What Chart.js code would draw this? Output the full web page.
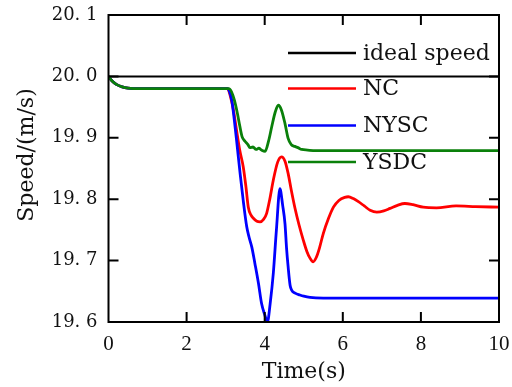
<!DOCTYPE html>
<html>
<head>
<meta charset="utf-8">
<script src="https://cdn.jsdelivr.net/npm/chart.js@4.4.1/dist/chart.umd.min.js"></script>
<style>
  html, body { margin: 0; padding: 0; background: #fff; }
  #wrap { width: 512px; height: 387px; position: relative; }
</style>
</head>
<body>
<div id="wrap"><canvas id="c" width="512" height="387"></canvas></div>
<script>
// Series labels and colours
const seriesNames = ['ideal speed', 'NC', 'NYSC', 'YSDC'];
const seriesColors = ['#000000', '#ff0000', '#0000ff', '#0a800a'];

// Axis ticks
const xTicks = [0, 2, 4, 6, 8, 10];
const yTicks = [19.6, 19.7, 19.8, 19.9, 20.0, 20.1];
const yTickLabels = ['19. 6', '19. 7', '19. 8', '19. 9', '20. 0', '20. 1'];

// Reference speed (m/s)
const idealTime  = [0, 10];
const idealSpeed = [20.0, 20.0];

// NC response
const ncTime = [0, 0.1, 0.2, 0.35, 0.5, 0.8, 3.05, 3.12, 3.2, 3.28, 3.36, 3.45, 3.52, 3.58, 3.65, 3.71, 3.8, 3.88, 3.97, 4.05, 4.13, 4.22, 4.33, 4.43, 4.52, 4.6, 4.68, 4.77, 4.88, 4.99, 5.08, 5.16, 5.24, 5.32, 5.4, 5.5, 5.63, 5.76, 5.9, 6.05, 6.14, 6.27, 6.4, 6.55, 6.7, 6.87, 7.05, 7.21, 7.4, 7.59, 7.8, 8.06, 8.4, 8.9, 9.4, 10];
const ncSpeed = [20.0, 19.992, 19.987, 19.983, 19.981, 19.980, 19.980, 19.968, 19.945, 19.912, 19.880, 19.853, 19.820, 19.787, 19.774, 19.769, 19.764, 19.763, 19.767, 19.777, 19.800, 19.831, 19.860, 19.869, 19.862, 19.842, 19.815, 19.787, 19.758, 19.733, 19.715, 19.704, 19.698, 19.705, 19.720, 19.744, 19.768, 19.787, 19.798, 19.803, 19.804, 19.801, 19.796, 19.789, 19.782, 19.779, 19.781, 19.785, 19.790, 19.793, 19.791, 19.787, 19.786, 19.789, 19.788, 19.787];

// NYSC response
const nyscTime = [0, 0.1, 0.2, 0.35, 0.5, 0.8, 3.05, 3.1, 3.16, 3.22, 3.28, 3.37, 3.45, 3.54, 3.6, 3.67, 3.75, 3.84, 3.92, 4.0, 4.07, 4.14, 4.22, 4.3, 4.39, 4.46, 4.52, 4.56, 4.6, 4.65, 4.69, 4.78, 4.9, 5.0, 5.16, 5.5, 10];
const nyscSpeed = [20.0, 19.992, 19.987, 19.983, 19.981, 19.980, 19.980, 19.975, 19.960, 19.930, 19.896, 19.842, 19.798, 19.755, 19.738, 19.722, 19.695, 19.663, 19.630, 19.612, 19.600, 19.630, 19.679, 19.750, 19.817, 19.790, 19.760, 19.720, 19.690, 19.660, 19.652, 19.647, 19.644, 19.642, 19.640, 19.639, 19.639];

// YSDC response
const ysdcTime = [0, 0.1, 0.2, 0.35, 0.5, 0.8, 3.08, 3.15, 3.22, 3.3, 3.36, 3.42, 3.5, 3.57, 3.62, 3.7, 3.78, 3.85, 3.92, 4.01, 4.1, 4.18, 4.27, 4.35, 4.43, 4.52, 4.6, 4.68, 4.77, 4.85, 4.95, 5.1, 5.3, 6, 10];
const ysdcSpeed = [20.0, 19.992, 19.987, 19.983, 19.981, 19.980, 19.980, 19.975, 19.962, 19.940, 19.920, 19.902, 19.894, 19.889, 19.884, 19.885, 19.881, 19.883, 19.880, 19.878, 19.895, 19.918, 19.942, 19.953, 19.945, 19.923, 19.899, 19.889, 19.886, 19.884, 19.881, 19.880, 19.879, 19.879, 19.879];

const toPoints = (t, v) => t.map((x, i) => ({ x: x, y: v[i] }));

// Frame around the plot area with inward tick marks on all four sides
const framePlugin = {
  id: 'frame',
  afterDraw(chart) {
    const { ctx, chartArea: a, scales } = chart;
    ctx.save();
    ctx.strokeStyle = '#000';
    ctx.lineWidth = 2;
    ctx.beginPath();
    const tl = 10;
    xTicks.slice(1, -1).forEach(v => {
      const px = scales.x.getPixelForValue(v);
      ctx.moveTo(px, a.bottom); ctx.lineTo(px, a.bottom - tl);
      ctx.moveTo(px, a.top); ctx.lineTo(px, a.top + tl);
    });
    yTicks.slice(1, -1).forEach(v => {
      const py = scales.y.getPixelForValue(v);
      ctx.moveTo(a.left, py); ctx.lineTo(a.left + tl, py);
      ctx.moveTo(a.right, py); ctx.lineTo(a.right - tl, py);
    });
    ctx.stroke();
    ctx.strokeRect(a.left, a.top, a.right - a.left, a.bottom - a.top);

    // vertical axis title
    ctx.fillStyle = '#111';
    ctx.font = '22px "DejaVu Serif"';
    ctx.textAlign = 'center';
    ctx.textBaseline = 'middle';
    ctx.translate(27, 155);
    ctx.rotate(-Math.PI / 2);
    ctx.fillText('Speed/(m/s)', 0, 0);
    ctx.restore();
  }
};

// Legend drawn inside the plot area, upper right
const legendPlugin = {
  id: 'innerLegend',
  afterDatasetsDraw(chart) {
    const { ctx } = chart;
    const x0 = 288, x1 = 356, tx = 363;
    const rows = [53, 88.5, 125.5, 162];
    ctx.save();
    ctx.font = '22px "DejaVu Serif"';
    ctx.textAlign = 'left';
    ctx.textBaseline = 'middle';
    chart.data.datasets.forEach((ds, i) => {
      ctx.strokeStyle = ds.borderColor;
      ctx.lineWidth = 2.5;
      ctx.beginPath();
      ctx.moveTo(x0, rows[i]);
      ctx.lineTo(x1, rows[i]);
      ctx.stroke();
      ctx.fillStyle = '#111';
      ctx.fillText(ds.label, tx, rows[i] + 1);
    });
    ctx.restore();
  }
};

const lineStyle = (i, order) => ({
  label: seriesNames[i],
  borderColor: seriesColors[i],
  backgroundColor: seriesColors[i],
  borderWidth: i === 0 ? 2 : 2.8,
  pointRadius: 0,
  fill: false,
  cubicInterpolationMode: 'monotone',
  order: order
});

new Chart(document.getElementById('c'), {
  type: 'line',
  data: {
    datasets: [
      Object.assign({ data: toPoints(idealTime, idealSpeed) }, lineStyle(0, 4)),
      Object.assign({ data: toPoints(ncTime, ncSpeed) }, lineStyle(1, 3)),
      Object.assign({ data: toPoints(nyscTime, nyscSpeed) }, lineStyle(2, 2)),
      Object.assign({ data: toPoints(ysdcTime, ysdcSpeed) }, lineStyle(3, 1))
    ]
  },
  options: {
    responsive: false,
    animation: false,
    devicePixelRatio: 1,
    layout: { padding: { top: 15, right: 13, left: 0, bottom: 0 } },
    plugins: { legend: { display: false }, tooltip: { enabled: false } },
    scales: {
      x: {
        type: 'linear',
        min: 0, max: 10,
        afterFit(s) { s.height = 65; s.paddingLeft = 0; s.paddingRight = 0; },
        afterBuildTicks(s) { s.ticks = xTicks.map(v => ({ value: v })); },
        grid: { display: false, drawTicks: false },
        border: { display: false },
        ticks: {
          padding: 10,
          color: '#111',
          font: { family: '"Liberation Serif"', size: 21 },
          callback: v => String(v)
        },
        title: {
          display: true,
          text: 'Time(s)',
          color: '#111',
          font: { family: '"DejaVu Serif"', size: 22 },
          padding: { top: 0, bottom: 2 }
        }
      },
      y: {
        type: 'linear',
        min: 19.6, max: 20.1,
        afterFit(s) { s.width = 108.5; s.paddingTop = 0; s.paddingBottom = 0; },
        afterBuildTicks(s) { s.ticks = yTicks.map(v => ({ value: v })); },
        grid: { display: false, drawTicks: false },
        border: { display: false },
        ticks: {
          padding: 11,
          color: '#111',
          font: { family: '"DejaVu Serif"', size: 18 },
          callback: (v, i) => yTickLabels[i]
        }
      }
    }
  },
  plugins: [legendPlugin, framePlugin]
});
</script>
</body>
</html>
